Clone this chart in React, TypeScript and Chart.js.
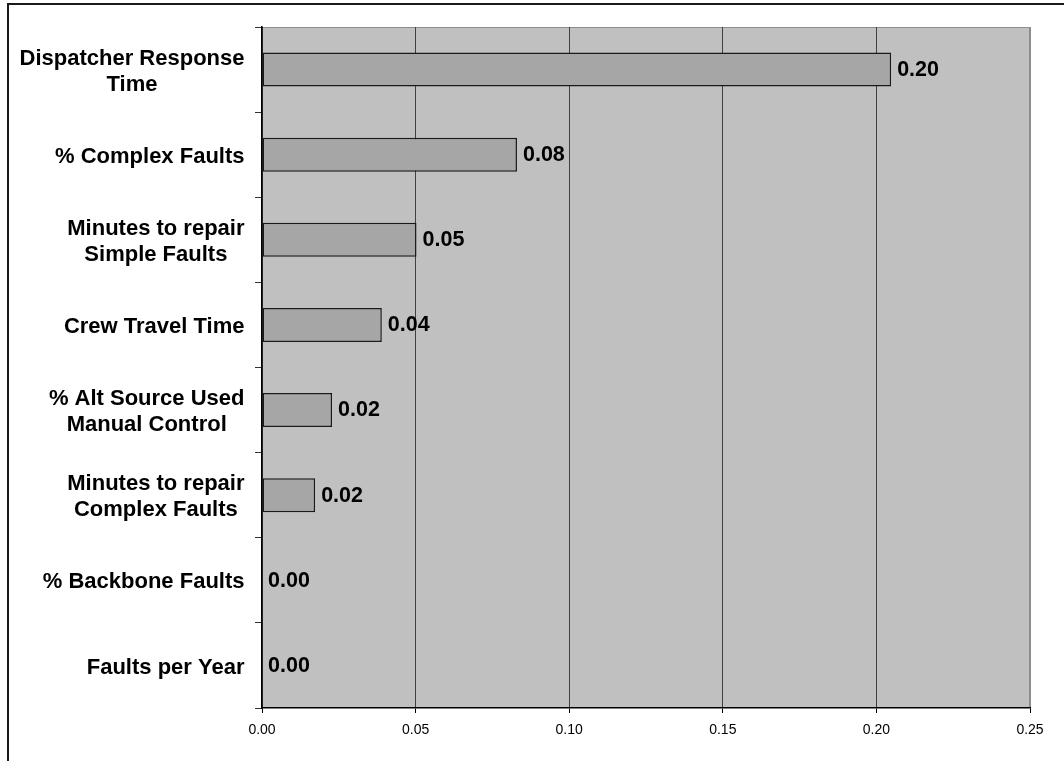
import { useEffect, useRef } from 'react';
import { Chart, registerables } from 'chart.js';

Chart.register(...registerables);

const FONT = '"Liberation Sans", Arial, Helvetica, sans-serif';

// Category names, one entry per line of the axis label
const categories: string[][] = [
  ['Dispatcher Response', 'Time'],
  ['% Complex Faults'],
  ['Minutes to repair', 'Simple Faults'],
  ['Crew Travel Time'],
  ['% Alt Source Used', 'Manual Control'],
  ['Minutes to repair', 'Complex Faults'],
  ['% Backbone Faults'],
  ['Faults per Year'],
];

// Sensitivity value of each factor
const values: number[] = [0.2048, 0.083, 0.0503, 0.039, 0.0228, 0.0173, 0, 0];

// Value axis range and spacing
const axisMin = 0;
const axisMax = 0.25;
const axisStep = 0.05;

const plotFrame = {
  id: 'plotFrame',
  beforeDraw(chart: any) {
    const { ctx, chartArea: a } = chart;
    ctx.save();
    // outer frame of the chart object
    ctx.strokeStyle = '#1a1a1a';
    ctx.lineWidth = 2;
    ctx.beginPath();
    ctx.moveTo(8, chart.height + 2);
    ctx.lineTo(8, 4);
    ctx.lineTo(chart.width + 2, 4);
    ctx.stroke();
    // plot area fill and its light border
    ctx.fillStyle = '#C0C0C0';
    ctx.fillRect(a.left, a.top, a.right - a.left, a.bottom - a.top);
    ctx.strokeStyle = '#8c8c8c';
    ctx.lineWidth = 1;
    ctx.beginPath();
    ctx.moveTo(a.left, a.top + 0.5);
    ctx.lineTo(a.right - 0.5, a.top + 0.5);
    ctx.lineTo(a.right - 0.5, a.bottom);
    ctx.stroke();
    ctx.restore();
  },
};

const categoryLabels = {
  id: 'categoryLabels',
  afterDraw(chart: any) {
    const { ctx } = chart;
    const yScale = chart.scales.y;
    ctx.save();
    ctx.font = `bold 22px ${FONT}`;
    ctx.fillStyle = '#000';
    ctx.textAlign = 'center';
    ctx.textBaseline = 'middle';
    const rightEdge = yScale.right - 17.5;
    categories.forEach((lines, i) => {
      const yc = yScale.getPixelForValue(i) + 2;
      const w = Math.max(...lines.map((l) => ctx.measureText(l).width));
      const cx = rightEdge - w / 2;
      lines.forEach((line, j) => {
        ctx.fillText(line, cx, yc + (j - (lines.length - 1) / 2) * 26);
      });
    });
    ctx.restore();
  },
};

const valueLabels = {
  id: 'valueLabels',
  afterDatasetsDraw(chart: any) {
    const { ctx } = chart;
    const meta = chart.getDatasetMeta(0);
    ctx.save();
    ctx.font = `bold 21.5px ${FONT}`;
    ctx.fillStyle = '#000';
    ctx.textAlign = 'left';
    ctx.textBaseline = 'middle';
    meta.data.forEach((bar: any, i: number) => {
      ctx.fillText(values[i].toFixed(2), bar.x + 6, bar.y + 0.5);
    });
    ctx.restore();
  },
};

export default function App() {
  const canvasRef = useRef<HTMLCanvasElement | null>(null);

  useEffect(() => {
    const canvas = canvasRef.current;
    if (!canvas) return;
    const lastTick = Math.round((axisMax - axisMin) / axisStep);
    const chart = new Chart(canvas, {
      type: 'bar',
      data: {
        labels: categories.map((c) => c.join(' ')),
        datasets: [
          {
            data: values,
            backgroundColor: '#A6A6A6',
            borderColor: '#1a1a1a',
            borderWidth: 1.5,
            borderSkipped: false,
            barPercentage: 0.4,
            categoryPercentage: 1,
          },
        ],
      },
      options: {
        indexAxis: 'y',
        responsive: false,
        animation: false,
        devicePixelRatio: 1,
        layout: { padding: { left: 0, right: 34, top: 27, bottom: 0 } },
        plugins: {
          legend: { display: false },
          tooltip: { enabled: false },
          title: { display: false },
        },
        scales: {
          x: {
            type: 'linear',
            position: 'bottom',
            min: axisMin,
            max: axisMax,
            afterFit: (s: any) => {
              s.height = 53;
            },
            ticks: {
              stepSize: axisStep,
              autoSkip: false,
              maxRotation: 0,
              padding: 9,
              color: '#000',
              font: { family: FONT, size: 14 },
              callback: (v: any) => Number(v).toFixed(2),
            },
            grid: {
              color: (c: any) => (c.index === lastTick ? '#8c8c8c' : '#404040'),
              tickColor: '#000',
              lineWidth: 1,
              tickLength: 5,
              drawOnChartArea: true,
            },
            border: { display: true, color: '#000', width: 1.5 },
          },
          y: {
            type: 'category',
            offset: true,
            afterFit: (s: any) => {
              s.width = 262;
            },
            ticks: { display: false },
            grid: {
              offset: true,
              drawOnChartArea: false,
              drawTicks: true,
              tickLength: 7,
              color: '#333',
              tickColor: '#333',
            },
            border: { display: true, color: '#000', width: 1.5 },
          },
        },
      },
      plugins: [plotFrame, categoryLabels, valueLabels],
    });
    return () => chart.destroy();
  }, []);

  return (
    <div style={{ position: 'absolute', left: 0, top: 0, width: 1064, height: 761, background: '#fff' }}>
      <canvas ref={canvasRef} width={1064} height={761} style={{ display: 'block' }} />
    </div>
  );
}
